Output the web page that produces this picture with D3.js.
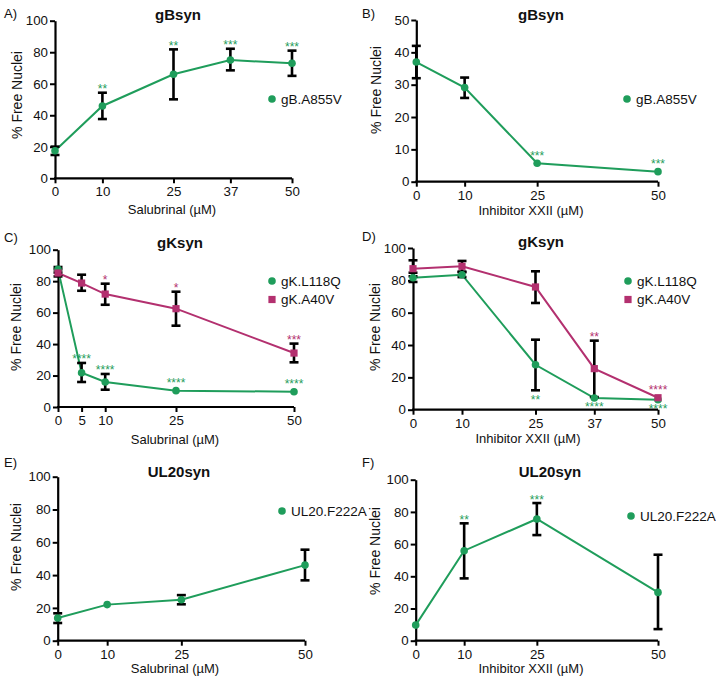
<!DOCTYPE html>
<html><head><meta charset="utf-8">
<script src="https://cdn.jsdelivr.net/npm/d3@7"></script>
<style>body{margin:0;background:#fff}svg{display:block}text{font-family:"Liberation Sans",Arial,sans-serif}</style>
</head><body><svg id="c" width="716" height="682"></svg>
<script>
const GREEN = "#1f9d5b", MAG = "#b3306f";

// ---- Panel A: gBsyn, Salubrinal
const doseA = [0, 10, 25, 37, 50];
const gB_A = [17.5, 45.9, 66, 75, 73];
const gB_A_lo = [14.8, 37.6, 50.1, 68.5, 65];
const gB_A_hi = [20.1, 54.3, 81.8, 82.2, 81];
const gB_A_sig = ["", "**", "**", "***", "***"];

// ---- Panel B: gBsyn, Inhibitor XXII
const doseB = [0, 10, 25, 50];
const gB_B = [37, 29.1, 5.7, 3.1];
const gB_B_lo = [32, 25.9, null, null];
const gB_B_hi = [42, 32.2, null, null];
const gB_B_sig = ["", "", "***", "***"];

// ---- Panel C: gKsyn, Salubrinal
const doseC = [0, 5, 10, 25, 50];
const gKL_C = [87.5, 21.8, 15.9, 10.4, 9.7];
const gKL_C_lo = [85.5, 15.9, 11, null, null];
const gKL_C_hi = [89, 28, 21, null, null];
const gKL_C_sig = ["", "****", "****", "****", "****"];
const gKA_C = [85.2, 78.8, 71.8, 62.5, 34.3];
const gKA_C_lo = [83, 73.9, 65, 51.7, 28.4];
const gKA_C_hi = [87.5, 84.1, 78.4, 73.3, 40.3];
const gKA_C_sig = ["", "", "*", "*", "***"];

// ---- Panel D: gKsyn, Inhibitor XXII
const doseD = [0, 10, 25, 37, 50];
const gKL_D = [81.6, 83.5, 27.8, 7.2, 6.2];
const gKL_D_lo = [79, 82, 12, null, null];
const gKL_D_hi = [84.7, 85, 43.3, null, null];
const gKL_D_sig = ["", "", "**", "****", "****"];
const gKA_D = [87.2, 88.7, 75.9, 25.4, 7.4];
const gKA_D_lo = [82.5, 85.4, 66, 7.8, null];
const gKA_D_hi = [92.4, 92, 85.6, 42.7, null];
const gKA_D_sig = ["", "", "", "**", "****"];

// ---- Panel E: UL20syn, Salubrinal
const doseE = [0, 10, 25, 50];
const ul_E = [13.8, 22, 25, 46.1];
const ul_E_lo = [10.8, null, 22.2, 36.8];
const ul_E_hi = [16.7, null, 27.8, 55.5];
const ul_E_sig = ["", "", "", ""];

// ---- Panel F: UL20syn, Inhibitor XXII
const doseF = [0, 10, 25, 50];
const ul_F = [9.7, 55.9, 75.6, 30];
const ul_F_lo = [null, 38.7, 65.6, 7.2];
const ul_F_hi = [null, 72.9, 85.5, 53.4];
const ul_F_sig = ["", "**", "***", ""];

const yTicks100 = [0, 20, 40, 60, 80, 100];
const yTicks50 = [0, 10, 20, 30, 40, 50];

const svg = d3.select("#c");

const panels = [
  {label:"A)", title:"gBsyn", xTitle:"Salubrinal (µM)", dose:doseA, ymax:100, yticks:yTicks100,
   box:{x0:55,x1:292,yT:20.7,yB:178.3}, lab:[4,18], ttl:[178,20], ylab:[17,95], xlab:[172,213.5], leg:[272,99],
   series:[{name:"gB.A855V", v:gB_A, lo:gB_A_lo, hi:gB_A_hi, sig:gB_A_sig, color:GREEN, shape:"circle"}]},
  {label:"B)", title:"gBsyn", xTitle:"Inhibitor XXII (µM)", dose:doseB, ymax:50, yticks:yTicks50,
   box:{x0:416.3,x1:658,yT:20,yB:181.7}, lab:[362,18], ttl:[541,20], ylab:[376,90], xlab:[531,214.5], leg:[627,99],
   series:[{name:"gB.A855V", v:gB_B, lo:gB_B_lo, hi:gB_B_hi, sig:gB_B_sig, color:GREEN, shape:"circle"}]},
  {label:"C)", title:"gKsyn", xTitle:"Salubrinal (µM)", dose:doseC, ymax:100, yticks:yTicks100,
   box:{x0:58,x1:294,yT:249.7,yB:407}, lab:[4,242], ttl:[180,248], ylab:[16,327], xlab:[175,444], leg:[272,281],
   series:[{name:"gK.L118Q", v:gKL_C, lo:gKL_C_lo, hi:gKL_C_hi, sig:gKL_C_sig, color:GREEN, shape:"circle"},
           {name:"gK.A40V", v:gKA_C, lo:gKA_C_lo, hi:gKA_C_hi, sig:gKA_C_sig, color:MAG, shape:"square"}]},
  {label:"D)", title:"gKsyn", xTitle:"Inhibitor XXII (µM)", dose:doseD, ymax:100, yticks:yTicks100,
   box:{x0:413,x1:658,yT:248,yB:409.7}, lab:[362,241], ttl:[541,247], ylab:[375,327], xlab:[528,443], leg:[628,281],
   series:[{name:"gK.L118Q", v:gKL_D, lo:gKL_D_lo, hi:gKL_D_hi, sig:gKL_D_sig, color:GREEN, shape:"circle", below:true},
           {name:"gK.A40V", v:gKA_D, lo:gKA_D_lo, hi:gKA_D_hi, sig:gKA_D_sig, color:MAG, shape:"square"}]},
  {label:"E)", title:"UL20syn", xTitle:"Salubrinal (µM)", dose:doseE, ymax:100, yticks:yTicks100,
   box:{x0:57.7,x1:305,yT:476.7,yB:640.7}, lab:[4,467], ttl:[179,477], ylab:[16,547], xlab:[175,673], leg:[282,511],
   series:[{name:"UL20.F222A", v:ul_E, lo:ul_E_lo, hi:ul_E_hi, sig:ul_E_sig, color:GREEN, shape:"circle"}]},
  {label:"F)", title:"UL20syn", xTitle:"Inhibitor XXII (µM)", dose:doseF, ymax:100, yticks:yTicks100,
   box:{x0:415.7,x1:658,yT:479.7,yB:640.7}, lab:[362,467], ttl:[550,477], ylab:[375,551], xlab:[531,673], leg:[631,516],
   series:[{name:"UL20.F222A", v:ul_F, lo:ul_F_lo, hi:ul_F_hi, sig:ul_F_sig, color:GREEN, shape:"circle"}]}
];

function marker(g, shape, color, cx, cy){
  if (shape === "circle") g.append("circle").attr("cx",cx).attr("cy",cy).attr("r",3.8).attr("fill",color);
  else g.append("rect").attr("x",cx-3.6).attr("y",cy-3.6).attr("width",7.2).attr("height",7.2).attr("fill",color);
}

panels.forEach(p => {
  const g = svg.append("g");
  const x = d3.scaleLinear().domain([0,50]).range([p.box.x0, p.box.x1]);
  const y = d3.scaleLinear().domain([0,p.ymax]).range([p.box.yB, p.box.yT]);

  // axes
  const xa = g.append("g").attr("transform",`translate(0,${p.box.yB})`)
    .call(d3.axisBottom(x).tickValues(p.dose).tickSize(5).tickSizeOuter(0).tickPadding(3.5));
  const ya = g.append("g").attr("transform",`translate(${p.box.x0},0)`)
    .call(d3.axisLeft(y).tickValues(p.yticks).tickSize(5).tickSizeOuter(0).tickPadding(2));
  [xa, ya].forEach(a => {
    a.select(".domain").attr("stroke","#000").attr("stroke-width",2.2);
    a.selectAll(".tick line").attr("stroke","#000").attr("stroke-width",2);
    a.selectAll(".tick text").attr("fill","#111").style("font-size","13.3px").style("font-family",'"Liberation Sans",Arial,sans-serif');
  });
  xa.select(".domain").attr("d", `M${p.box.x0-1},0H${p.box.x1}`);

  // text labels
  g.append("text").attr("x",p.lab[0]).attr("y",p.lab[1]).text(p.label).style("font-size","13px").attr("fill","#111");
  g.append("text").attr("x",p.ttl[0]).attr("y",p.ttl[1]).attr("text-anchor","middle").text(p.title)
    .style("font-size","15px").style("font-weight","bold").attr("fill","#111");
  g.append("text").attr("transform",`translate(${p.ylab[0]},${p.ylab[1]}) rotate(-90)`).attr("text-anchor","middle")
    .attr("dy","0.35em").text("% Free Nuclei").style("font-size","14px").attr("fill","#111");
  g.append("text").attr("x",p.xlab[0]).attr("y",p.xlab[1]).attr("text-anchor","middle").text(p.xTitle)
    .style("font-size","13px").attr("fill","#111");

  // lines
  p.series.forEach(s => {
    const line = d3.line().x((d,i)=>x(p.dose[i])).y(d=>y(d));
    g.append("path").attr("d", line(s.v)).attr("fill","none").attr("stroke",s.color).attr("stroke-width",2);
  });
  // error bars
  p.series.forEach(s => {
    p.dose.forEach((dv,i) => {
      if (s.lo[i] == null) return;
      const cx = x(dv), yl = y(s.lo[i]), yh = y(s.hi[i]);
      g.append("line").attr("x1",cx).attr("x2",cx).attr("y1",yl).attr("y2",yh).attr("stroke","#000").attr("stroke-width",2.6);
      [yl,yh].forEach(yy => g.append("line").attr("x1",cx-4.5).attr("x2",cx+4.5).attr("y1",yy).attr("y2",yy).attr("stroke","#000").attr("stroke-width",2.6));
    });
  });
  // points + significance
  p.series.forEach(s => {
    p.dose.forEach((dv,i) => {
      const cx = x(dv), cy = y(s.v[i]);
      marker(g, s.shape, s.color, cx, cy);
      if (s.sig[i]) {
        let c;
        if (s.below) c = (s.lo[i]==null ? cy + 6.5 : y(s.lo[i]) + 7);
        else c = (s.hi[i]==null ? cy - 10 : y(s.hi[i]) - 6);
        g.append("text").attr("x",cx).attr("y",c+6.5).attr("text-anchor","middle").text(s.sig[i])
          .style("font-size","12px").attr("fill",s.color);
      }
    });
  });
  // legend
  p.series.forEach((s,k) => {
    const ly = p.leg[1] + k*18.5;
    marker(g, s.shape, s.color, p.leg[0], ly);
    g.append("text").attr("x",p.leg[0]+9).attr("y",ly).attr("dy","0.35em").text(s.name)
      .style("font-size","13.5px").attr("fill","#111");
  });
});
</script></body></html>
